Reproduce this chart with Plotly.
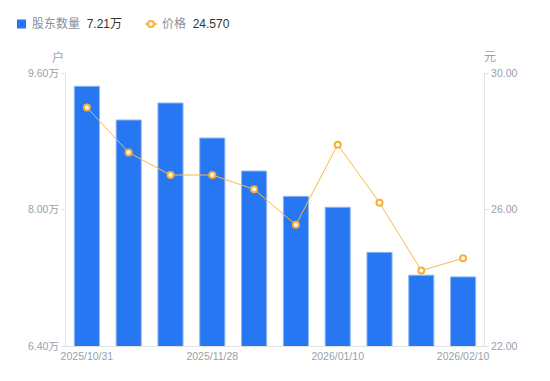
import plotly.graph_objects as go

dates = ["2025/10/31", "2025/11/10", "2025/11/20", "2025/11/28", "2025/12/10",
         "2025/12/31", "2026/01/10", "2026/01/20", "2026/01/30", "2026/02/10"]
holders = [94440, 90490, 92480, 88380, 84510, 81540, 80260, 74980, 72300, 72100]
price = [28.99, 27.67, 27.01, 27.01, 26.59, 25.55, 27.90, 26.20, 24.21, 24.57]

left_ticks = [64000, 80000, 96000]
left_text = ["6.40万", "8.00万", "9.60万"]
right_ticks = [22, 26, 30]
right_text = ["22.00", "26.00", "30.00"]
x_shown = ["2025/10/31", "2025/11/28", "2026/01/10", "2026/02/10"]

FONT = "Liberation Sans, Noto Sans CJK SC, sans-serif"
GRAY = "#9a9fab"
BLUE = "#2777F2"
ORANGE = "#F7B035"

W, H = 550, 381
ML, MR, MT, MB = 66, 66, 73, 35
PW, PH = W - ML - MR, H - MT - MB


def px(x):
    return (x - ML) / PW


def py(y):
    return (H - MB - y) / PH


fig = go.Figure()
fig.add_trace(go.Bar(
    x=dates, y=holders, name="股东数量",
    marker=dict(color=BLUE, line=dict(color="#8db5f7", width=1)),
    yaxis="y",
))
fig.add_trace(go.Scatter(
    x=dates, y=price, name="价格",
    mode="lines+markers",
    line=dict(color="#F7BA47", width=1),
    marker=dict(symbol="circle", size=6, color="white", line=dict(color=ORANGE, width=2)),
    yaxis="y2",
))

shapes = [
    dict(type="rect", xref="paper", yref="paper", x0=px(17), x1=px(26), y0=py(28.5), y1=py(19.5),
         fillcolor=BLUE, line=dict(width=0)),
    dict(type="line", xref="paper", yref="paper", x0=px(145), x1=px(157), y0=py(24), y1=py(24),
         line=dict(color=ORANGE, width=1.5)),
    dict(type="circle", xref="paper", yref="paper", x0=px(148), x1=px(154), y0=py(27), y1=py(21),
         fillcolor="white", line=dict(color=ORANGE, width=2)),
]

TICKFONT = dict(size=10.5, color=GRAY)

fig.update_layout(
    width=W, height=H,
    margin=dict(l=ML, r=MR, t=MT, b=MB, autoexpand=False),
    paper_bgcolor="white", plot_bgcolor="white",
    font=dict(family=FONT, size=11, color=GRAY),
    bargap=0.4,
    showlegend=False,
    xaxis=dict(type="category", range=[-0.5, len(dates) - 0.5],
               tickmode="array", tickvals=x_shown, ticktext=x_shown,
               showline=True, linecolor="#e3e3e6", linewidth=1, ticks="",
               showgrid=False, automargin=False, tickfont=TICKFONT),
    yaxis=dict(range=[64000, 96000], tickvals=left_ticks, ticktext=left_text,
               showline=True, linecolor="#e3e3e6", ticks="outside", ticklen=4,
               tickcolor="#e3e3e6", showgrid=False, zeroline=False, automargin=False,
               tickfont=TICKFONT),
    yaxis2=dict(range=[22, 30], tickvals=right_ticks, ticktext=right_text,
                overlaying="y", side="right",
                showline=True, linecolor="#e3e3e6", ticks="outside", ticklen=4,
                tickcolor="#e3e3e6", showgrid=False, zeroline=False, automargin=False,
                tickfont=TICKFONT),
    shapes=shapes,
    annotations=[
        dict(text="股东数量  <span style='color:#333333'>7.21万</span>", xref="paper", yref="paper",
             x=px(30), y=py(24), xanchor="left", yanchor="middle", showarrow=False,
             font=dict(size=12, color="#8a8f99")),
        dict(text="价格  <span style='color:#333333'>24.570</span>", xref="paper", yref="paper",
             x=px(160), y=py(24), xanchor="left", yanchor="middle", showarrow=False,
             font=dict(size=12, color="#8a8f99")),
        dict(text="户", xref="paper", yref="paper", x=px(58), y=py(57), xanchor="center",
             yanchor="middle", showarrow=False, font=dict(size=12, color=GRAY)),
        dict(text="元", xref="paper", yref="paper", x=px(490), y=py(57), xanchor="center",
             yanchor="middle", showarrow=False, font=dict(size=12, color=GRAY)),
    ],
)

fig.write_html("out.html", config={"displayModeBar": False},
               post_script="document.body.style.margin='0';")
